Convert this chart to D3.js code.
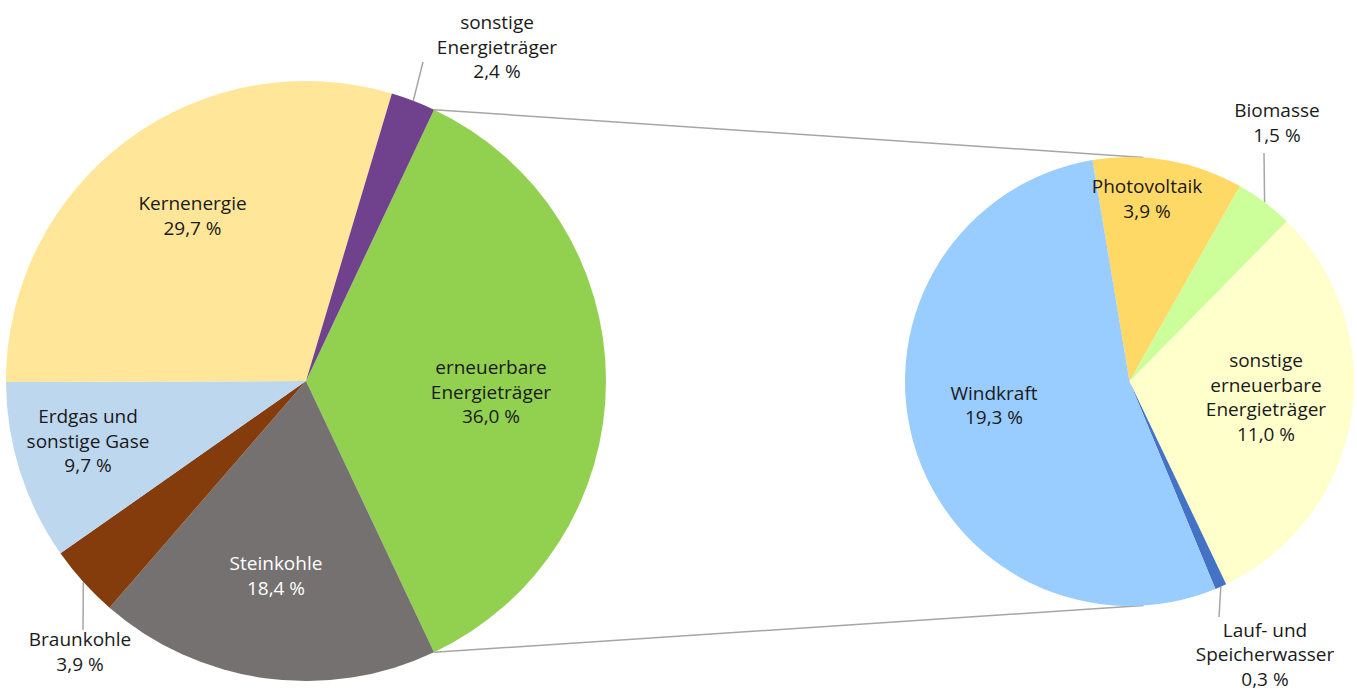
<!DOCTYPE html>
<html>
<head>
<meta charset="utf-8">
<script src="https://cdn.jsdelivr.net/npm/d3@7"></script>
<style>
  body { margin: 0; background: #fff; }
  svg text { font-family: "Open Sans", "DejaVu Sans", sans-serif; font-size: 19px; fill: #1a1a1a; }
</style>
</head>
<body>
<div id="chart"></div>
<script>
// Bruttostromerzeugung - Anteile in %
var mainNames = ["erneuerbare\nEnergieträger", "Steinkohle", "Braunkohle", "Erdgas und\nsonstige Gase", "Kernenergie", "sonstige\nEnergieträger"];
var mainValues = [36.0, 18.4, 3.9, 9.7, 29.7, 2.4];

var subNames = ["Photovoltaik", "Biomasse", "sonstige\nerneuerbare\nEnergieträger", "Lauf- und\nSpeicherwasser", "Windkraft"];
var subValues = [3.9, 1.5, 11.0, 0.3, 19.3];

var mainColors = ["#92d050", "#757171", "#843c0c", "#bdd7ee", "#ffe699", "#70418c"];
var subColors = ["#ffd966", "#ccff99", "#ffffcc", "#4472c4", "#99ccff"];

var width = 1357, height = 691;
var cx1 = 306, cy1 = 381, r1 = 300;
var cx2 = 1129.5, cy2 = 381.5, r2 = 224.5;
var lineH = 24.5;
var fmt = function(v) { return d3.format(".1f")(v).replace(".", ",") + " %"; };
var rad = function(deg) { return deg * Math.PI / 180; };

// label block centres, relative to the pie centre
var mainLabelPos = [[185, 11], [-30, 195], [-226, 271], [-218, 60], [-113.5, -165], [191, -334]];
var subLabelPos = [[17.5, -182.5], [147.5, -258.5], [136.5, 16], [135.5, 273], [-135.5, 24]];
// leader line end points (relative), null = no leader
var mainLeader = [null, null, [-223, 249], null, null, [117, -319]];
var subLeader = [null, [134.5, -228.5], null, [89.5, 235.5], null];

var svg = d3.select("#chart").append("svg")
    .attr("width", width)
    .attr("height", height);

// left pie: renewable slice centred at 3 o'clock
var mainStart = rad(90) - (mainValues[0] / d3.sum(mainValues)) * Math.PI;
var pie1 = d3.pie().sort(null).value(d => d)
    .startAngle(mainStart).endAngle(mainStart + 2 * Math.PI);
var arcs1 = pie1(mainValues);

var subStart = rad(-9.5);
var pie2 = d3.pie().sort(null).value(d => d)
    .startAngle(subStart).endAngle(subStart + 2 * Math.PI);
var arcs2 = pie2(subValues);

// connector lines between pies
var ren = arcs1[0];
var off = Math.asin(14 / r2);
var conn = [
    [[cx1 + r1 * Math.sin(ren.startAngle), cy1 - r1 * Math.cos(ren.startAngle)], [cx2 + r2 * Math.sin(off), cy2 - r2 * Math.cos(off)]],
    [[cx1 + r1 * Math.sin(ren.endAngle), cy1 - r1 * Math.cos(ren.endAngle)], [cx2 + r2 * Math.sin(Math.PI - off), cy2 - r2 * Math.cos(Math.PI - off)]]
];
svg.selectAll(".conn").data(conn).enter()
    .append("line")
    .attr("class", "conn")
    .attr("x1", d => d[0][0]).attr("y1", d => d[0][1])
    .attr("x2", d => d[1][0]).attr("y2", d => d[1][1])
    .attr("stroke", "#a6a6a6")
    .attr("stroke-width", 1.5);

function drawPie(arcs, cx, cy, r, colors, names, values, labelPos, leaders, white) {
    var g = svg.append("g").attr("transform", `translate(${cx},${cy})`);
    var arc = d3.arc().innerRadius(0).outerRadius(r);

    g.selectAll("path").data(arcs).enter()
        .append("path")
        .attr("d", arc)
        .attr("fill", (d, i) => colors[i]);

    // leader lines
    arcs.forEach(function(d, i) {
        if (!leaders[i]) return;
        var mid = (d.startAngle + d.endAngle) / 2;
        g.append("line")
            .attr("x1", r * Math.sin(mid)).attr("y1", -r * Math.cos(mid))
            .attr("x2", leaders[i][0]).attr("y2", leaders[i][1])
            .attr("stroke", "#a6a6a6")
            .attr("stroke-width", 1.5);
    });

    // labels
    arcs.forEach(function(d, i) {
        var lines = names[i].split("\n").concat([fmt(values[i])]);
        var y0 = labelPos[i][1] - (lines.length - 1) * lineH / 2;
        var t = g.append("text")
            .attr("text-anchor", "middle")
            .style("fill", white === i ? "#ffffff" : null);
        lines.forEach(function(s, k) {
            t.append("tspan")
                .attr("x", labelPos[i][0])
                .attr("y", y0 + k * lineH)
                .attr("dy", "0.35em")
                .text(s);
        });
    });
}

drawPie(arcs1, cx1, cy1, r1, mainColors, mainNames, mainValues, mainLabelPos, mainLeader, 1);
drawPie(arcs2, cx2, cy2, r2, subColors, subNames, subValues, subLabelPos, subLeader, -1);
</script>
</body>
</html>
